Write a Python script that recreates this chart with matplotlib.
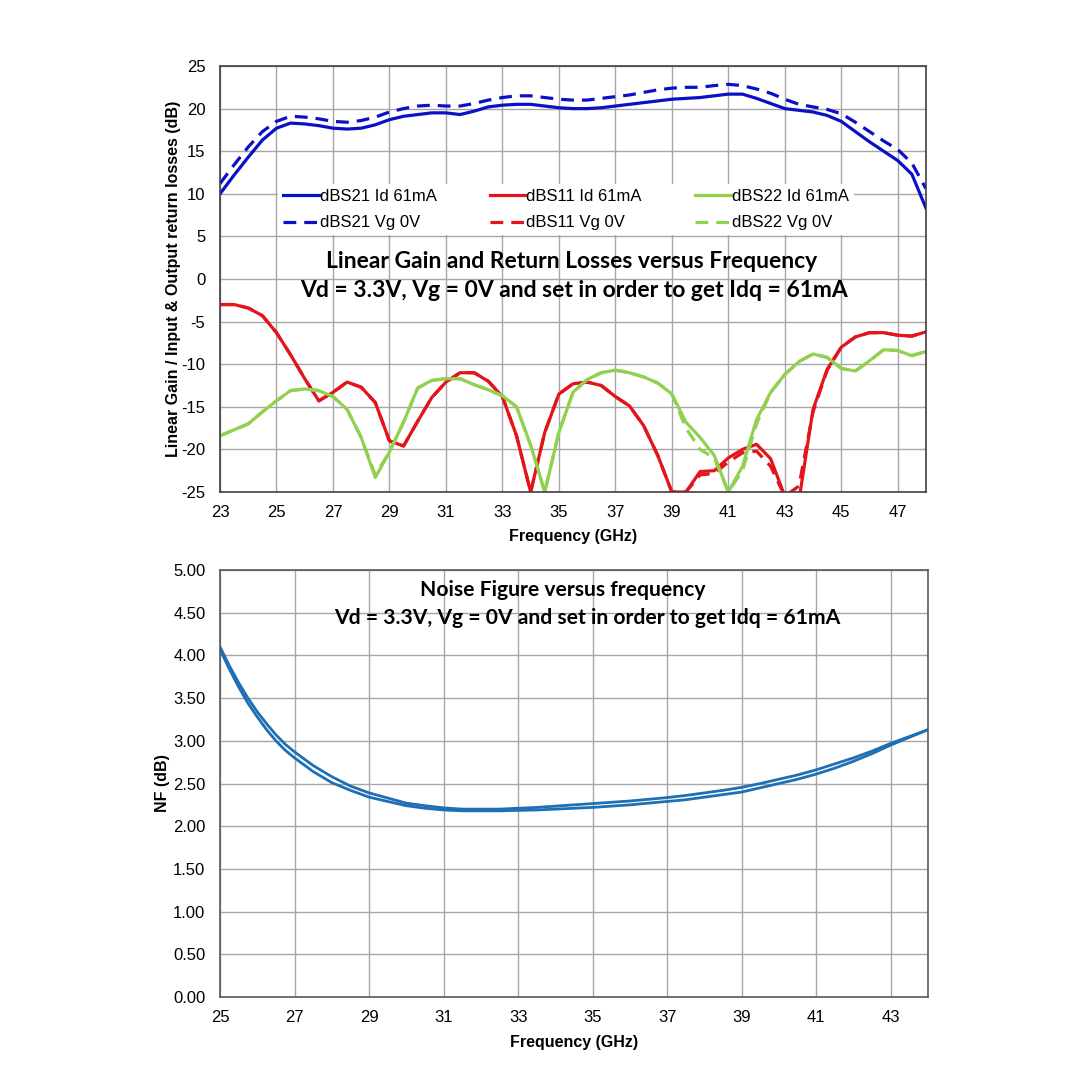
import numpy as np
import matplotlib
matplotlib.use('Agg')
import matplotlib.pyplot as plt
from matplotlib.ticker import FormatStrFormatter

# ---- data: S-parameters vs frequency (GHz), 0.5 GHz step ----
freq_s = np.arange(23.0, 48.01, 0.5)

s21_id = [10.0, 12.2, 14.3, 16.3, 17.7, 18.3, 18.2, 18.0, 17.7, 17.6,
          17.7, 18.1, 18.7, 19.1, 19.3, 19.5, 19.5, 19.3, 19.7, 20.2,
          20.4, 20.5, 20.5, 20.3, 20.1, 20.0, 20.0, 20.1, 20.3, 20.5,
          20.7, 20.9, 21.1, 21.2, 21.3, 21.5, 21.7, 21.7, 21.2, 20.6,
          20.0, 19.8, 19.6, 19.2, 18.5, 17.3, 16.1, 15.0, 13.9, 12.3, 8.3]
s21_vg = [11.2, 13.4, 15.5, 17.3, 18.5, 19.1, 19.0, 18.8, 18.5, 18.4,
          18.6, 19.0, 19.6, 20.0, 20.3, 20.4, 20.3, 20.3, 20.6, 21.0,
          21.3, 21.5, 21.5, 21.3, 21.1, 21.0, 21.0, 21.2, 21.4, 21.6,
          21.9, 22.2, 22.4, 22.5, 22.5, 22.7, 22.85, 22.7, 22.3, 21.8,
          21.1, 20.5, 20.2, 19.9, 19.4, 18.4, 17.3, 16.2, 15.2, 13.6, 10.6]
s11_id = [-3.0, -3.0, -3.4, -4.3, -6.3, -8.9, -11.7, -14.3, -13.3, -12.1,
          -12.7, -14.5, -19.0, -19.6, -16.7, -13.9, -12.1, -11.0, -11.0, -12.0,
          -13.8, -18.4, -25.0, -18.0, -13.5, -12.3, -12.1, -12.5, -13.8, -14.9,
          -17.2, -20.7, -25.0, -25.0, -22.6, -22.5, -21.0, -20.0, -19.4, -21.1,
          -25.5, -26.0, -15.3, -10.6, -8.0, -6.8, -6.3, -6.3, -6.6, -6.7, -6.2]
s11_vg = [-3.0, -3.0, -3.4, -4.3, -6.3, -8.9, -11.7, -14.3, -13.3, -12.1,
          -12.7, -14.5, -19.0, -19.6, -16.7, -13.9, -12.1, -11.0, -11.0, -12.0,
          -13.8, -18.4, -25.0, -18.0, -13.5, -12.3, -12.1, -12.5, -13.8, -14.9,
          -17.2, -20.7, -25.0, -25.0, -23.0, -22.8, -21.5, -20.4, -20.2, -22.0,
          -25.5, -24.3, -15.6, -10.7, -8.0, -6.8, -6.3, -6.3, -6.6, -6.7, -6.2]
s22_id = [-18.4, -17.7, -17.0, -15.6, -14.3, -13.1, -12.9, -13.1, -13.8, -15.3,
          -18.6, -23.3, -20.3, -16.8, -12.8, -11.9, -11.7, -11.7, -12.4, -13.0,
          -13.7, -15.0, -19.5, -25.0, -18.0, -13.3, -11.8, -11.0, -10.7, -11.0,
          -11.5, -12.2, -13.5, -16.8, -18.6, -20.7, -25.0, -22.0, -16.5, -13.3,
          -11.2, -9.7, -8.8, -9.2, -10.5, -10.8, -9.6, -8.3, -8.4, -9.0, -8.5]
s22_vg = [-18.4, -17.7, -17.0, -15.6, -14.3, -13.1, -12.9, -13.1, -13.8, -15.3,
          -18.6, -23.0, -20.3, -16.8, -12.8, -11.9, -11.7, -11.7, -12.4, -13.0,
          -13.7, -15.0, -19.5, -25.0, -18.0, -13.3, -11.8, -11.0, -10.7, -11.0,
          -11.5, -12.2, -13.5, -17.5, -20.0, -21.0, -25.0, -22.5, -17.0, -13.3,
          -11.2, -9.7, -8.8, -9.2, -10.5, -10.8, -9.6, -8.3, -8.4, -9.0, -8.5]

# ---- data: noise figure (dB) ----
freq_nf = [25.0, 25.25, 25.5, 25.75, 26.0, 26.25, 26.5, 26.75, 27.0, 27.5,
           28.0, 28.5, 29.0, 29.5, 30.0, 30.5, 31.0, 31.5, 32.0, 32.5,
           33.0, 33.5, 34.0, 34.5, 35.0, 35.5, 36.0, 36.5, 37.0, 37.5,
           38.0, 38.5, 39.0, 39.5, 40.0, 40.5, 41.0, 41.5, 42.0, 42.5,
           43.0, 43.5, 44.0]
nf_a = [4.10, 3.88, 3.68, 3.50, 3.34, 3.20, 3.07, 2.96, 2.87, 2.71,
        2.58, 2.47, 2.39, 2.33, 2.27, 2.24, 2.215, 2.20, 2.20, 2.20,
        2.21, 2.22, 2.235, 2.25, 2.265, 2.28, 2.295, 2.315, 2.335, 2.36,
        2.39, 2.42, 2.455, 2.50, 2.55, 2.60, 2.66, 2.73, 2.80, 2.88,
        2.97, 3.05, 3.13]
nf_b = [4.07, 3.84, 3.63, 3.44, 3.28, 3.13, 3.00, 2.89, 2.80, 2.64,
        2.51, 2.42, 2.34, 2.29, 2.24, 2.21, 2.19, 2.18, 2.18, 2.18,
        2.185, 2.19, 2.20, 2.21, 2.22, 2.235, 2.25, 2.27, 2.29, 2.31,
        2.34, 2.37, 2.40, 2.45, 2.50, 2.55, 2.61, 2.68, 2.76, 2.85,
        2.95, 3.04, 3.13]

BLUE = '#0A10C8'
RED = '#E4141B'
GREEN = '#92D050'
NFBLUE = '#1F6FB4'
GRID = '#A6A6A6'
TITLE_FONT = ['Lato', 'DejaVu Sans']
DASH = (4, 2.5)

plt.rcParams['font.family'] = ['Liberation Sans', 'DejaVu Sans']
plt.rcParams['axes.unicode_minus'] = False

fig = plt.figure(figsize=(10.8, 10.8), dpi=100)

# ---------------- top chart: gain / return losses ----------------
ax1 = fig.add_axes([220/1080, 1-492/1080, 706/1080, 426/1080])
lw = 2.3
ax1.plot(freq_s, s21_id, color=BLUE, lw=lw, label='dBS21 Id 61mA')
ax1.plot(freq_s, s21_vg, color=BLUE, lw=lw, dashes=DASH, label='dBS21 Vg 0V')
ax1.plot(freq_s, s11_id, color=RED, lw=lw, label='dBS11 Id 61mA')
ax1.plot(freq_s, s11_vg, color=RED, lw=lw, dashes=DASH, label='dBS11 Vg 0V')
ax1.plot(freq_s, s22_id, color=GREEN, lw=lw, label='dBS22 Id 61mA')
ax1.plot(freq_s, s22_vg, color=GREEN, lw=lw, dashes=DASH, label='dBS22 Vg 0V')

ax1.set_xlim(23, 48)
ax1.set_ylim(-25, 25)
ax1.set_xticks(np.arange(23, 48, 2))
ax1.set_yticks(np.arange(-25, 26, 5))
ax1.grid(True, color=GRID, lw=1.0)
ax1.set_axisbelow(True)
ax1.tick_params(length=0, labelsize=12)
ax1.tick_params(axis='x', pad=9.5)
ax1.tick_params(axis='y', pad=10.5)
for sp in ax1.spines.values():
    sp.set_color('#404040')
    sp.set_linewidth(1.2)
ax1.set_xlabel('Frequency (GHz)', fontsize=11.5, fontweight='bold', labelpad=6.5)
ax1.set_ylabel('Linear Gain / Input & Output return losses (dB)',
               fontsize=11.5, fontweight='bold', labelpad=0.5)

leg = ax1.legend(ncol=3, loc='center', bbox_to_anchor=(0.49, 0.663),
                 fontsize=12, frameon=True, fancybox=False,
                 handlelength=2.2, handletextpad=0.0, columnspacing=3.2,
                 labelspacing=0.7, borderpad=0.3)
leg.get_frame().set_edgecolor('none')
leg.get_frame().set_facecolor('white')
leg.get_frame().set_alpha(1.0)

ax1.text(0.498, 0.542, 'Linear Gain and Return Losses versus Frequency',
         transform=ax1.transAxes, ha='center', va='center', fontsize=16.5,
         fontweight='bold', family=TITLE_FONT, zorder=10)
ax1.text(0.502, 0.472, 'Vd = 3.3V, Vg = 0V and set in order to get Idq = 61mA',
         transform=ax1.transAxes, ha='center', va='center', fontsize=16.5,
         fontweight='bold', family=TITLE_FONT, zorder=10)

# ---------------- bottom chart: noise figure ----------------
ax2 = fig.add_axes([220/1080, 1-997/1080, 708/1080, 427/1080])
ax2.plot(freq_nf, nf_a, color=NFBLUE, lw=2.0)
ax2.plot(freq_nf, nf_b, color=NFBLUE, lw=2.0)
ax2.set_xlim(25, 44)
ax2.set_ylim(0, 5)
ax2.set_xticks(np.arange(25, 44, 2))
ax2.set_yticks(np.arange(0, 5.01, 0.5))
ax2.yaxis.set_major_formatter(FormatStrFormatter('%.2f'))
ax2.grid(True, color=GRID, lw=1.0)
ax2.set_axisbelow(True)
ax2.tick_params(length=0, labelsize=12)
ax2.tick_params(axis='x', pad=9.5)
ax2.tick_params(axis='y', pad=10.5)
for sp in ax2.spines.values():
    sp.set_color('#595959')
    sp.set_linewidth(1.2)
ax2.set_xlabel('Frequency (GHz)', fontsize=11.5, fontweight='bold', labelpad=7)
ax2.set_ylabel('NF (dB)', fontsize=11.5, fontweight='bold', labelpad=2.5)

ax2.text((563-220)/708, (997-590)/427, 'Noise Figure versus frequency',
         transform=ax2.transAxes, ha='center', va='center', fontsize=15.2,
         fontweight='bold', family=TITLE_FONT, zorder=10)
ax2.text((587-220)/708, (997-618)/427,
         'Vd = 3.3V, Vg = 0V and set in order to get Idq = 61mA',
         transform=ax2.transAxes, ha='center', va='center', fontsize=15.2,
         fontweight='bold', family=TITLE_FONT, zorder=10)

fig.savefig('out.png', dpi=100, facecolor='white')
